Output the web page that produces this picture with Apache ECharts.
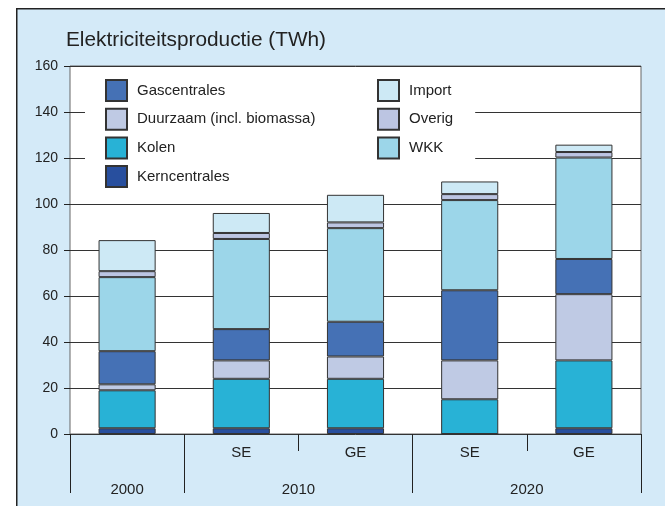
<!DOCTYPE html>
<html>
<head>
<meta charset="utf-8">
<title>Elektriciteitsproductie</title>
<script src="https://cdn.jsdelivr.net/npm/echarts@6/dist/echarts.min.js"></script>
<style>
  html, body { margin: 0; padding: 0; background: #fff; }
  #chart { width: 665px; height: 506px; }
</style>
</head>
<body>
<div id="chart"></div>
<script>
// scenario labels per bar, year groups below them
var categories = ['', 'SE', 'GE', 'SE', 'GE'];
var yearLabels = ['2000', '2010', '2020'];
var yearSpans = [1, 2, 2];

// TWh per source, bottom of stack first
var kern = [2.5, 2.5, 2.5, 0, 2.5];
var kolen = [16.5, 21.5, 21.5, 15.1, 29.5];
var duurzaam = [2.6, 8.0, 9.7, 16.9, 28.8];
var gas = [14.4, 13.6, 15.1, 30.5, 15.3];
var wkk = [32.2, 39.2, 40.7, 39.2, 44.1];
var overig = [2.6, 2.6, 2.5, 2.6, 2.4];
var importData = [13.5, 8.7, 12.0, 5.5, 3.2];

// group boundaries and centres for the year row
var yearBounds = [0];
var yearCenters = [];
for (var i = 0; i < yearSpans.length; i++) {
    var start = yearBounds[yearBounds.length - 1];
    yearCenters.push(start + yearSpans[i] / 2);
    yearBounds.push(start + yearSpans[i]);
}

var font = "'Liberation Sans', Arial, sans-serif";
var ink = '#222';

function bar(name, data, color) {
    return {
        name: name,
        type: 'bar',
        stack: 'total',
        barWidth: '50%',
        data: data,
        itemStyle: {
            color: color,
            borderColor: '#333',
            borderWidth: 1
        }
    };
}

var legendCommon = {
    orient: 'vertical',
    top: 70,
    backgroundColor: '#fff',
    icon: 'rect',
    itemWidth: 21,
    itemHeight: 21,
    itemGap: 5.7,
    selectedMode: false,
    textStyle: { fontFamily: font, fontSize: 15, color: ink, padding: [0, 0, 0, 5] }
};

var mychart = echarts.init(document.getElementById('chart'));
var option = {
    animation: false,
    textStyle: { fontFamily: font },
    graphic: [{
        type: 'rect',
        left: 16,
        top: 8,
        z: -10,
        silent: true,
        shape: { width: 700, height: 560 },
        style: { fill: '#d4eaf8', stroke: ink, lineWidth: 1.5 }
    }],
    title: {
        text: 'Elektriciteitsproductie (TWh)',
        left: 66,
        top: 29.5,
        padding: 0,
        textStyle: { fontFamily: font, fontSize: 20.8, fontWeight: 'normal', color: ink }
    },
    grid: {
        left: 70,
        right: 24,
        top: 66,
        bottom: 72,
        show: true,
        backgroundColor: '#fff',
        borderColor: '#666',
        borderWidth: 1
    },
    legend: [
        Object.assign({}, legendCommon, {
            data: ['Gascentrales', 'Duurzaam (incl. biomassa)', 'Kolen', 'Kerncentrales'],
            left: 85,
            padding: [9, 58, 5, 20]
        }),
        Object.assign({}, legendCommon, {
            data: ['Import', 'Overig', 'WKK'],
            left: 370,
            padding: [9, 22, 18, 7]
        })
    ],
    xAxis: [{
        type: 'category',
        data: categories,
        position: 'bottom',
        offset: 7,
        axisLine: { show: false },
        axisTick: { show: true, interval: 0, length: 17, lineStyle: { color: ink, width: 1 } },
        axisLabel: { interval: 0, margin: 4, fontFamily: font, fontSize: 15, color: ink },
        splitLine: { show: false }
    }, {
        type: 'value',
        min: 0,
        max: categories.length,
        position: 'bottom',
        offset: 7,
        axisLine: { show: false },
        axisTick: { show: true, customValues: yearBounds, length: 52, lineStyle: { color: ink, width: 1 } },
        axisLabel: {
            customValues: yearCenters,
            margin: 41,
            fontFamily: font,
            fontSize: 15,
            color: ink,
            formatter: function (v) {
                var idx = yearCenters.indexOf(v);
                return idx >= 0 ? yearLabels[idx] : '';
            }
        },
        splitLine: { show: false }
    }],
    yAxis: {
        type: 'value',
        min: 0,
        max: 160,
        interval: 20,
        axisLine: { show: false },
        axisTick: { show: true, length: 6, lineStyle: { color: ink } },
        axisLabel: { margin: 12, fontFamily: font, fontSize: 14, color: ink },
        splitLine: { lineStyle: { color: '#333', width: 1 } }
    },
    series: [
        bar('Kerncentrales', kern, '#284f9e'),
        bar('Kolen', kolen, '#28b2d6'),
        bar('Duurzaam (incl. biomassa)', duurzaam, '#bfcae4'),
        bar('Gascentrales', gas, '#4571b5'),
        bar('WKK', wkk, '#9cd6e9'),
        bar('Overig', overig, '#bcc5e2'),
        bar('Import', importData, '#cde9f5')
    ]
};
mychart.setOption(option);
</script>
</body>
</html>
